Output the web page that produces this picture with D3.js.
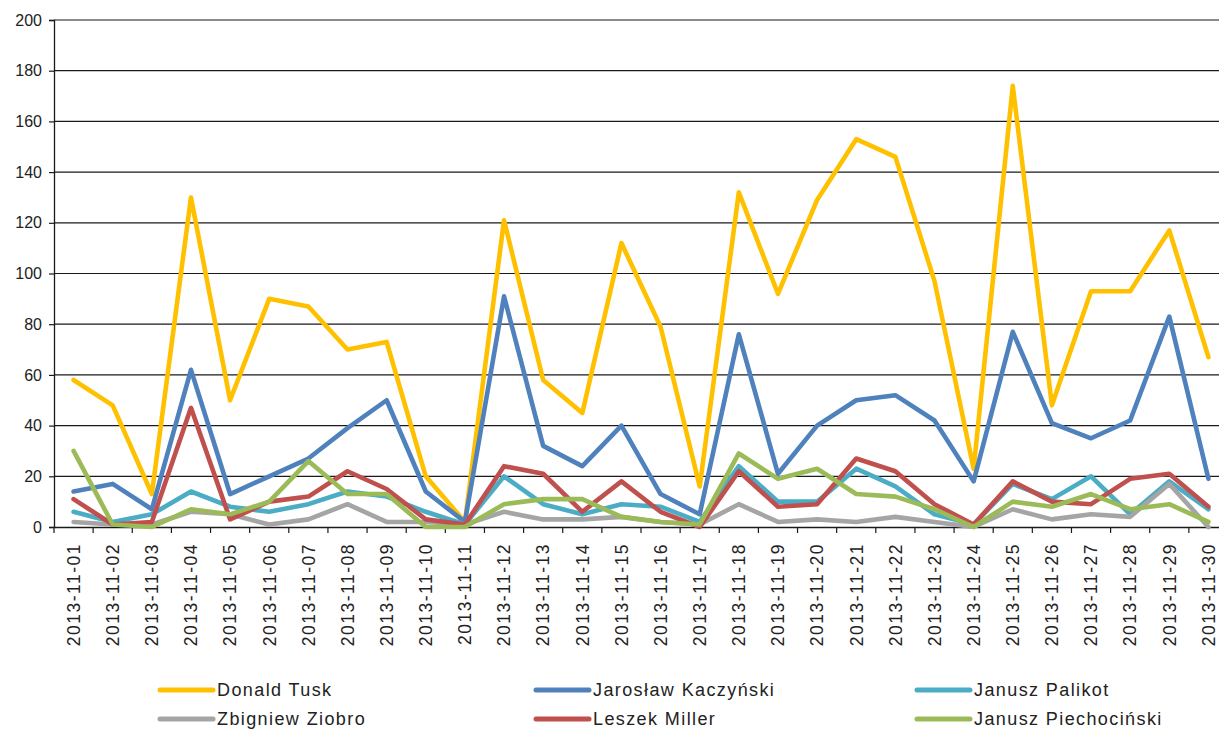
<!DOCTYPE html>
<html>
<head>
<meta charset="utf-8">
<script src="https://cdn.jsdelivr.net/npm/d3@7"></script>
<style>
  html, body { margin: 0; padding: 0; background: #fff; }
  svg { display: block; }
  text { font-family: "Liberation Sans", Arial, sans-serif; fill: #222; }
</style>
</head>
<body>
<svg id="chart" width="1219" height="729"></svg>
<script>
const dates = ["2013-11-01","2013-11-02","2013-11-03","2013-11-04","2013-11-05","2013-11-06","2013-11-07","2013-11-08","2013-11-09","2013-11-10",
  "2013-11-11","2013-11-12","2013-11-13","2013-11-14","2013-11-15","2013-11-16","2013-11-17","2013-11-18","2013-11-19","2013-11-20",
  "2013-11-21","2013-11-22","2013-11-23","2013-11-24","2013-11-25","2013-11-26","2013-11-27","2013-11-28","2013-11-29","2013-11-30"];

const seriesNames = ["Donald Tusk","Jarosław Kaczyński","Janusz Palikot","Zbigniew Ziobro","Leszek Miller","Janusz Piechociński"];
const seriesColors = ["#FFC000","#4F81BD","#4BACC6","#A5A5A5","#C0504D","#9BBB59"];

const tusk         = [58,48,13,130,50,90,87,70,73,20,2,121,58,45,112,79,16,132,92,129,153,146,97,23,174,48,93,93,117,67];
const kaczynski    = [14,17,7,62,13,20,27,39,50,14,2,91,32,24,40,13,5,76,21,40,50,52,42,18,77,41,35,42,83,19];
const palikot      = [6,2,5,14,8,6,9,14,12,6,1,20,9,5,9,8,2,24,10,10,23,16,5,1,17,11,20,5,18,7];
const ziobro       = [2,1,1,6,5,1,3,9,2,2,1,6,3,3,4,2,1,9,2,3,2,4,2,0,7,3,5,4,17,0];
const miller       = [11,1,2,47,3,10,12,22,15,3,1,24,21,6,18,6,0,22,8,9,27,22,9,1,18,10,9,19,21,8];
const piechocinski = [30,1,0,7,5,10,26,13,13,0,0,9,11,11,4,2,1,29,19,23,13,12,7,0,10,8,13,7,9,2];

const yTicks = [0,20,40,60,80,100,120,140,160,180,200];

const seriesValues = [tusk, kaczynski, palikot, ziobro, miller, piechocinski];

(function () {
const svg = d3.select("#chart");
const mLeft = 54, mRight = 1228, mTop = 20, mBottom = 527;

const x = d3.scaleBand().domain(dates).range([mLeft, mRight]).paddingInner(0).paddingOuter(0);
const y = d3.scaleLinear().domain([0, 200]).range([mBottom, mTop]);
const cx = d => x(d) + x.bandwidth() / 2;

// gridlines
svg.append("g").selectAll("line")
  .data(yTicks.filter(t => t > 0))
  .join("line")
  .attr("x1", mLeft).attr("x2", mRight)
  .attr("y1", d => y(d)).attr("y2", d => y(d))
  .attr("stroke", d => d === 200 ? "#8a8a8a" : "#1a1a1a")
  .attr("stroke-width", d => d === 200 ? 2 : 1.2);

// y axis
const yAxis = d3.axisLeft(y).tickValues(yTicks).tickSize(5).tickPadding(7);
const gy = svg.append("g").attr("transform", `translate(${mLeft},0)`).call(yAxis);
gy.select(".domain").attr("stroke", "#1a1a1a").attr("stroke-width", 1.3);
gy.selectAll(".tick line").attr("stroke", "#1a1a1a").attr("stroke-width", 1.2);
gy.selectAll(".tick text").style("font-size", "16px").attr("fill", "#222")
  .style("font-family", '"Liberation Sans", Arial, sans-serif');

// x axis
const xAxis = d3.axisBottom(x).tickSize(0).tickSizeOuter(0).tickFormat(d => d);
const gx = svg.append("g").attr("transform", `translate(0,${mBottom})`).call(xAxis);
gx.select(".domain").attr("stroke", "#1a1a1a").attr("stroke-width", 1.3);
gx.selectAll(".tick text")
  .style("font-size", "17.5px")
  .style("letter-spacing", "1.5px")
  .style("font-family", '"Liberation Sans", Arial, sans-serif')
  .attr("fill", "#222")
  .attr("text-anchor", "end")
  .attr("x", 0).attr("y", 0).attr("dy", "0.36em")
  .attr("transform", "translate(0,16) rotate(-90)");

// boundary ticks on x axis
const bounds = dates.map(d => x(d)).concat([x(dates[dates.length - 1]) + x.bandwidth()]);
svg.append("g").selectAll("line").data(bounds).join("line")
  .attr("x1", d => d).attr("x2", d => d)
  .attr("y1", mBottom).attr("y2", mBottom + 6)
  .attr("stroke", "#1a1a1a").attr("stroke-width", 1.2);

// lines
const line = d3.line().x((v, i) => cx(dates[i])).y(v => y(v));
svg.append("g").selectAll("path")
  .data(seriesValues)
  .join("path")
  .attr("d", d => line(d))
  .attr("fill", "none")
  .attr("stroke", (d, i) => seriesColors[i])
  .attr("stroke-width", 4.6)
  .attr("stroke-linejoin", "round")
  .attr("stroke-linecap", "round");

// legend
const legendCols = [160, 536, 917];
const legendRows = [690, 719];
const lg = svg.append("g");
seriesNames.forEach((name, i) => {
  const col = i % 3, row = Math.floor(i / 3);
  const lx = legendCols[col], ly = legendRows[row];
  lg.append("line")
    .attr("x1", lx).attr("x2", lx + 53)
    .attr("y1", ly).attr("y2", ly)
    .attr("stroke", seriesColors[i]).attr("stroke-width", 5)
    .attr("stroke-linecap", "round");
  lg.append("text")
    .attr("x", lx + 57).attr("y", ly).attr("dy", "0.36em")
    .style("font-size", "18px")
    .style("letter-spacing", "1.4px")
    .text(name);
});
})();
</script>
</body>
</html>
